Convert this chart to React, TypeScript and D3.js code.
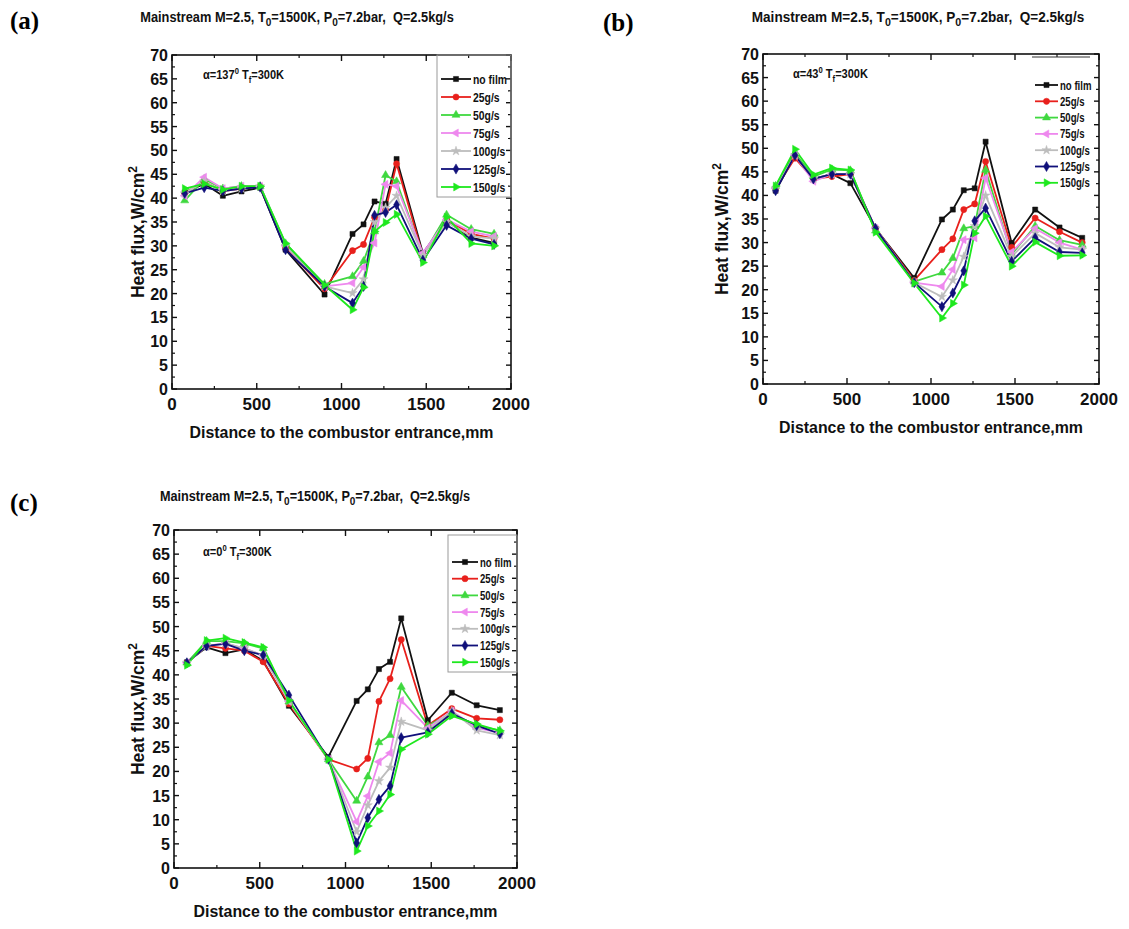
import React from "react";
import * as d3 from "d3";

// ---------- data ----------
const X_MM = [75, 190, 300, 410, 520, 670, 900, 1065, 1130, 1195, 1260, 1325, 1480, 1620, 1765, 1900];
const SERIES_NAMES = ["no film", "25g/s", "50g/s", "75g/s", "100g/s", "125g/s", "150g/s"];
const X_TICKS = [0, 500, 1000, 1500, 2000];
const Y_TICKS = [0, 5, 10, 15, 20, 25, 30, 35, 40, 45, 50, 55, 60, 65, 70];

// panel (a) alpha = 137
const aNoFilm = [41.2, 43, 40.5, 41.4, 42.2, 29.2, 19.8, 32.5, 34.5, 39.3, 38.8, 48.2, 28.5, 35.2, 31.7, 30.6];
const a25 = [41, 43.5, 41.5, 42, 42.5, 29.5, 21, 29, 30.3, 36, 37.5, 47.2, 28, 35.5, 32.5, 31.5];
const a50 = [39.5, 44, 42, 42.5, 42.5, 30.5, 22, 23.6, 26.8, 33, 44.8, 43.5, 28, 36.5, 33.5, 32.5];
const a75 = [40.5, 44.4, 42, 42.5, 42.5, 30, 21.5, 22.2, 25.5, 30.6, 42.9, 42.5, 28.5, 35.5, 33, 32];
const a100 = [41, 43.5, 41.5, 42, 42.5, 30, 21.5, 20.1, 23, 35, 38, 40.5, 28, 35, 32, 31.5];
const a125 = [41, 42.2, 41.5, 42, 42.3, 29.2, 21.5, 18, 21.5, 36.4, 37, 38.6, 27, 34.3, 31.5, 30.3];
const a150 = [42, 43, 41.8, 42.5, 42.5, 30.5, 21.8, 16.6, 21.3, 33, 34.9, 36.6, 26.5, 36, 30.5, 30];

// panel (b) alpha = 43
const bNoFilm = [41, 48.5, 43.5, 44.5, 42.6, 33, 22.5, 34.9, 37, 41.1, 41.5, 51.4, 29.9, 37, 33.2, 31];
const b25 = [41.5, 47.9, 43.5, 44, 44.5, 33, 22, 28.5, 30.8, 37, 38.2, 47.2, 29, 35.2, 32.3, 30];
const b50 = [42, 49, 44, 45.5, 45.3, 32.5, 21.7, 23.6, 26.7, 33, 33.5, 45.4, 27.5, 33.5, 30.5, 29.5];
const b75 = [41.5, 48.5, 43, 44.5, 44.5, 33, 21.5, 20.7, 24.3, 30.6, 31, 43.7, 28, 33, 30, 28.5];
const b100 = [41.5, 48.5, 43.5, 44.5, 44.5, 33, 21.5, 18.5, 22, 27, 33.5, 40, 27, 32, 29, 28.5];
const b125 = [41, 48.5, 43.5, 44.5, 44.5, 33, 21.5, 16.4, 19.3, 24, 34.6, 37.3, 26, 31, 28, 27.8];
const b150 = [42, 49.8, 44.4, 45.8, 45.4, 32.2, 21.4, 14, 17.1, 21, 32, 35.6, 25, 30.1, 27.2, 27.3];

// panel (c) alpha = 0
const cNoFilm = [42.6, 45.7, 44.5, 45.3, 42.9, 33.6, 23, 34.6, 37, 41.2, 42.7, 51.7, 30.6, 36.3, 33.7, 32.7];
const c25 = [42.5, 46, 45.5, 45, 42.7, 34, 22.5, 20.5, 22.7, 34.5, 39.2, 47.3, 29.5, 33, 31, 30.7];
const c50 = [42.5, 47, 47, 46.5, 45.5, 34.5, 22.5, 13.9, 18.9, 26, 27.5, 37.5, 29.5, 32, 29.5, 28.5];
const c75 = [42.5, 46, 46.5, 45.5, 44, 34.5, 22.5, 9.6, 14.9, 22, 23.8, 34.7, 29, 32.5, 29, 28];
const c100 = [42.5, 46, 46.5, 45.5, 44, 34.5, 22.5, 7.5, 13, 18, 20.8, 30.3, 28.5, 32.5, 28.5, 27.5];
const c125 = [42.5, 46, 46.4, 45, 44.1, 35.8, 22.5, 5.2, 10.4, 14.2, 17, 27, 28.1, 32, 29.5, 27.8];
const c150 = [42, 47.1, 47.6, 46.7, 45.7, 34.7, 22.5, 3.5, 8.7, 11.8, 15.2, 24.6, 27.7, 31.5, 29.8, 28.4];

// ---------- styles ----------
const COLORS = ["#111111", "#e8201c", "#3fd83f", "#ee88ee", "#bdbdbd", "#10107a", "#1ee81e"];
const SYMBOLS = ["square", "circle", "triUp", "triLeft", "star", "diamond", "triRight"];

const SANS = "'Liberation Sans', Arial, sans-serif";

function markerPath(kind: string): { d: string; rot: number } {
  const s = 28;
  switch (kind) {
    case "square":
      return { d: d3.symbol(d3.symbolSquare, 26)()!, rot: 0 };
    case "circle":
      return { d: d3.symbol(d3.symbolCircle, 30)()!, rot: 0 };
    case "triUp":
      return { d: d3.symbol(d3.symbolTriangle, s)()!, rot: 0 };
    case "triLeft":
      return { d: d3.symbol(d3.symbolTriangle, s)()!, rot: -90 };
    case "triRight":
      return { d: d3.symbol(d3.symbolTriangle, s)()!, rot: 90 };
    case "star":
      return { d: d3.symbol(d3.symbolStar, 26)()!, rot: 0 };
    case "diamond":
      return { d: d3.symbol(d3.symbolDiamond, 30)()!, rot: 0 };
  }
  return { d: "", rot: 0 };
}

type PanelCfg = {
  label: string;
  labelX: number;
  labelY: number;
  left: number;
  right: number;
  top: number;
  bottom: number;
  titleX: number;
  titleY: number;
  titleScale: number;
  alpha: string;
  annX: number;
  annY: number;
  ylabelX: number;
  xtitleY: number;
  legend: { x: number; y: number; dy: number; lineLen: number; font: number; box: null | [number, number, number, number]; topLine?: [number, number, number] };
  series: number[][];
};

function Panel({ cfg }: { cfg: PanelCfg }) {
  const x = d3.scaleLinear().domain([0, 2000]).range([cfg.left, cfg.right]);
  const y = d3.scaleLinear().domain([0, 70]).range([cfg.bottom, cfg.top]);
  const line = d3
    .line<number>()
    .x((_, i) => x(X_MM[i]))
    .y((v) => y(v));

  const majY = Y_TICKS;
  const minY = d3.range(2.5, 70, 5);
  const majX = X_TICKS;
  const minX = d3.range(250, 2000, 500);

  const midY = (cfg.top + cfg.bottom) / 2;
  const midX = (cfg.left + cfg.right) / 2;

  return (
    <g>
      {/* panel label */}
      <text x={cfg.labelX} y={cfg.labelY} fontFamily="'Liberation Serif', 'Times New Roman', serif" fontWeight="bold" fontSize={25}>
        {cfg.label}
      </text>
      {/* title */}
      <text transform={`translate(${cfg.titleX},${cfg.titleY}) scale(${cfg.titleScale},1)`} fontFamily={SANS} fontWeight="bold" fontSize={14} textAnchor="middle" style={{ whiteSpace: "pre" }} fill="#111">
        <tspan>Mainstream M=2.5, T</tspan>
        <tspan dy={4} fontSize={11}>0</tspan>
        <tspan dy={-4}>=1500K, P</tspan>
        <tspan dy={4} fontSize={11}>0</tspan>
        <tspan dy={-4}>{"=7.2bar,  Q=2.5kg/s"}</tspan>
      </text>

      {/* data lines */}
      {cfg.series.map((vals, si) => (
        <path key={"l" + si} d={line(vals)!} fill="none" stroke={COLORS[si]} strokeWidth={1.8} strokeLinejoin="round" />
      ))}
      {cfg.series.map((vals, si) => {
        const m = markerPath(SYMBOLS[si]);
        return (
          <g key={"m" + si}>
            {vals.map((v, i) => (
              <path key={i} d={m.d} transform={`translate(${x(X_MM[i])},${y(v)}) rotate(${m.rot})`} fill={COLORS[si]} stroke={COLORS[si]} strokeWidth={0.5} />
            ))}
          </g>
        );
      })}

      {/* frame */}
      <rect x={cfg.left} y={cfg.top} width={cfg.right - cfg.left} height={cfg.bottom - cfg.top} fill="none" stroke="#111" strokeWidth={1.6} />
      {/* ticks */}
      {majY.map((t) => (
        <g key={"my" + t}>
          <line x1={cfg.left} x2={cfg.left + 5} y1={y(t)} y2={y(t)} stroke="#111" strokeWidth={1.4} />
          <line x1={cfg.right} x2={cfg.right - 5} y1={y(t)} y2={y(t)} stroke="#111" strokeWidth={1.4} />
        </g>
      ))}
      {minY.map((t) => (
        <g key={"ny" + t}>
          <line x1={cfg.left} x2={cfg.left + 3} y1={y(t)} y2={y(t)} stroke="#111" strokeWidth={1.2} />
          <line x1={cfg.right} x2={cfg.right - 3} y1={y(t)} y2={y(t)} stroke="#111" strokeWidth={1.2} />
        </g>
      ))}
      {majX.map((t) => (
        <g key={"mx" + t}>
          <line x1={x(t)} x2={x(t)} y1={cfg.bottom} y2={cfg.bottom - 6} stroke="#111" strokeWidth={1.4} />
          <line x1={x(t)} x2={x(t)} y1={cfg.top} y2={cfg.top + 6} stroke="#111" strokeWidth={1.4} />
        </g>
      ))}
      {minX.map((t) => (
        <g key={"nx" + t}>
          <line x1={x(t)} x2={x(t)} y1={cfg.bottom} y2={cfg.bottom - 3} stroke="#111" strokeWidth={1.2} />
          <line x1={x(t)} x2={x(t)} y1={cfg.top} y2={cfg.top + 3} stroke="#111" strokeWidth={1.2} />
        </g>
      ))}
      {/* tick labels */}
      {majY.map((t) => (
        <text key={"yl" + t} x={cfg.left - 4} y={y(t) + 6} textAnchor="end" fontFamily={SANS} fontWeight="bold" fontSize={16} fill="#111">
          {t}
        </text>
      ))}
      {majX.map((t) => (
        <text key={"xl" + t} x={x(t)} y={cfg.bottom + 21} textAnchor="middle" fontFamily={SANS} fontWeight="bold" fontSize={17} fill="#111">
          {t}
        </text>
      ))}
      {/* axis titles */}
      <text x={midX} y={cfg.xtitleY} textAnchor="middle" fontFamily={SANS} fontWeight="bold" fontSize={17} textLength={304} lengthAdjust="spacingAndGlyphs" fill="#111">
        Distance to the combustor entrance,mm
      </text>
      <text transform={`translate(${cfg.ylabelX},${midY + 10}) rotate(-90)`} textAnchor="middle" fontFamily={SANS} fontWeight="bold" fontSize={17.5} fill="#111">
        <tspan>Heat flux,W/cm</tspan>
        <tspan dy={-7} fontSize={12}>2</tspan>
      </text>

      {/* annotation */}
      <text transform={`translate(${cfg.annX},${cfg.annY}) scale(0.85,1)`} fontFamily={SANS} fontWeight="bold" fontSize={13} fill="#111">
        <tspan>α={cfg.alpha}</tspan>
        <tspan dy={-5} fontSize={9}>0</tspan>
        <tspan dy={5}> T</tspan>
        <tspan dy={4} fontSize={9}>f</tspan>
        <tspan dy={-4}>=300K</tspan>
      </text>

      {/* legend */}
      {cfg.legend.box && (
        <rect x={cfg.legend.box[0]} y={cfg.legend.box[1]} width={cfg.legend.box[2]} height={cfg.legend.box[3]} fill="none" stroke="#9a9a9a" strokeWidth={1} />
      )}
      {cfg.legend.topLine && (
        <line x1={cfg.legend.topLine[0]} x2={cfg.legend.topLine[1]} y1={cfg.legend.topLine[2]} y2={cfg.legend.topLine[2]} stroke="#333" strokeWidth={1.2} />
      )}
      {SERIES_NAMES.map((name, si) => {
        const ly = cfg.legend.y + si * cfg.legend.dy;
        const lx = cfg.legend.x;
        const m = markerPath(SYMBOLS[si]);
        return (
          <g key={"lg" + si}>
            <line x1={lx} x2={lx + cfg.legend.lineLen} y1={ly} y2={ly} stroke={COLORS[si]} strokeWidth={1.8} />
            <path d={m.d} transform={`translate(${lx + cfg.legend.lineLen / 2},${ly}) rotate(${m.rot})`} fill={COLORS[si]} stroke={COLORS[si]} strokeWidth={0.5} />
            <text transform={`translate(${lx + cfg.legend.lineLen + 2},${ly + 4.5}) scale(0.8,1)`} fontFamily={SANS} fontWeight="bold" fontSize={cfg.legend.font} fill="#111">
              {name}
            </text>
          </g>
        );
      })}
    </g>
  );
}

const PANELS: PanelCfg[] = [
  {
    label: "(a)", labelX: 10, labelY: 29,
    left: 172, right: 511, top: 55, bottom: 389,
    titleX: 297, titleY: 22, titleScale: 0.915,
    alpha: "137", annX: 203, annY: 79,
    ylabelX: 144, xtitleY: 438,
    legend: { x: 441, y: 79, dy: 18, lineLen: 30, font: 13, box: [437, 55, 74, 142] },
    series: [aNoFilm, a25, a50, a75, a100, a125, a150],
  },
  {
    label: "(b)", labelX: 603, labelY: 31,
    left: 763, right: 1099, top: 54, bottom: 384,
    titleX: 918, titleY: 22, titleScale: 0.97,
    alpha: "43", annX: 793, annY: 78,
    ylabelX: 728, xtitleY: 433,
    legend: { x: 1035, y: 85, dy: 16.3, lineLen: 23, font: 12, box: null, topLine: [1032, 1090, 57] },
    series: [bNoFilm, b25, b50, b75, b100, b125, b150],
  },
  {
    label: "(c)", labelX: 10, labelY: 511,
    left: 174, right: 517, top: 530, bottom: 868,
    titleX: 315, titleY: 501, titleScale: 0.905,
    alpha: "0", annX: 203, annY: 556,
    ylabelX: 144, xtitleY: 917,
    legend: { x: 452, y: 562, dy: 16.7, lineLen: 26, font: 12, box: [448, 535, 69, 137] },
    series: [cNoFilm, c25, c50, c75, c100, c125, c150],
  },
];

export default function App() {
  return (
    <svg width={1129} height={929} style={{ position: "absolute", left: 0, top: 0, background: "#fff" }}>
      <rect x={0} y={0} width={1129} height={929} fill="#fff" />
      {PANELS.map((p) => (
        <Panel key={p.label} cfg={p} />
      ))}
    </svg>
  );
}
